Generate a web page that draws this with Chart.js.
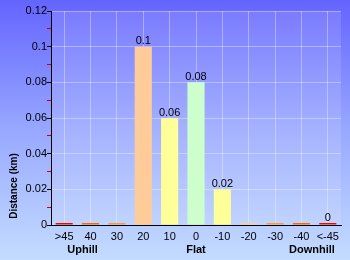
<!DOCTYPE html>
<html lang="en">
<head>
<meta charset="UTF-8">
<title>Distance by gradient</title>
<script src="https://cdn.jsdelivr.net/npm/chart.js"></script>
<style>
    html, body { margin: 0; padding: 0; background: #c4dcff; }
    #wrap { position: relative; width: 350px; height: 260px; }
</style>
</head>
<body>
<div id="wrap"><canvas id="chart" width="350" height="260"></canvas></div>
<script>
// Chart data
const categories = ['>45', '40', '30', '20', '10', '0', '-10', '-20', '-30', '-40', '<-45'];
const distances = [0, 0, 0, 0.1, 0.06, 0.08, 0.02, 0, 0, 0, 0];
const valueLabels = ['', '', '', '0.1', '0.06', '0.08', '0.02', '', '', '', '0'];
const barColors = ['#ff0000', '#ff6600', '#ff9933', '#ffcc99', '#ffff99', '#ccffcc',
                   '#ffff99', '#ffcc99', '#ff9933', '#ff6600', '#ff0000'];
const groupLabels = [
    { text: 'Uphill', index: 0.7 },
    { text: 'Flat', index: 5 },
    { text: 'Downhill', index: 9.4 }
];
const yMax = 0.12;
const yStep = 0.01;

const FONT = '"Liberation Sans", Arial, sans-serif';

// background gradient + lighter plot area
const backdrop = {
    id: 'backdrop',
    beforeDraw(chart) {
        const { ctx, width, height, chartArea: a } = chart;
        ctx.save();
        const g = ctx.createLinearGradient(0, 0, 0, height);
        g.addColorStop(0, '#6464ff');
        g.addColorStop(0.5, '#98a8ff');
        g.addColorStop(1, '#c4dcff');
        ctx.fillStyle = g;
        ctx.fillRect(0, 0, width, height);
        ctx.fillStyle = 'rgba(255,255,255,0.12)';
        ctx.fillRect(a.left, a.top, a.right - a.left, a.bottom - a.top);
        ctx.restore();
    }
};

// value labels, axis title and group captions
const annotations = {
    id: 'annotations',
    afterDatasetsDraw(chart) {
        const { ctx } = chart;
        const meta = chart.getDatasetMeta(0);
        ctx.save();
        ctx.fillStyle = '#000';
        ctx.font = '11px ' + FONT;
        ctx.textAlign = 'center';
        ctx.textBaseline = 'bottom';
        meta.data.forEach((bar, i) => {
            if (valueLabels[i]) ctx.fillText(valueLabels[i], bar.x, bar.y);
        });

        ctx.font = 'bold 11px ' + FONT;
        ctx.textBaseline = 'middle';
        const xs = chart.scales.x;
        groupLabels.forEach(g => {
            ctx.fillText(g.text, xs.getPixelForValue(g.index), 250);
        });

        ctx.translate(14, 186);
        ctx.rotate(-Math.PI / 2);
        ctx.font = 'bold 10px ' + FONT;
        ctx.fillText('Distance (km)', 0, 0);
        ctx.restore();
    }
};

const isMajor = v => Math.round(v / yStep) % 2 === 0;

new Chart(document.getElementById('chart'), {
    type: 'bar',
    data: {
        labels: categories,
        datasets: [{
            data: distances,
            backgroundColor: barColors,
            borderWidth: 0,
            minBarLength: 2,
            barPercentage: 0.65,
            categoryPercentage: 1
        }]
    },
    options: {
        responsive: false,
        animation: false,
        events: [],
        layout: { padding: { left: 0, right: 9, top: 11, bottom: 0 } },
        plugins: { legend: { display: false }, tooltip: { enabled: false } },
        scales: {
            x: {
                afterFit(s) { s.height = 35; },
                border: { color: '#000', width: 1 },
                grid: {
                    offset: false,
                    drawTicks: false,
                    color: 'rgba(255,255,255,0.35)',
                    borderDash: [4, 3]
                },
                ticks: {
                    color: '#000',
                    padding: 5,
                    maxRotation: 0,
                    minRotation: 0,
                    autoSkip: false,
                    font: { family: FONT, size: 11 }
                }
            },
            y: {
                min: 0,
                max: yMax,
                afterFit(s) { s.width = 51; },
                border: { color: '#000', width: 1 },
                grid: {
                    color: c => isMajor(c.tick.value) ? 'rgba(255,255,255,0.35)' : 'rgba(0,0,0,0)',
                    tickColor: c => isMajor(c.tick.value) ? '#000' : '#cc0000',
                    borderDash: [4, 3],
                    tickBorderDash: [],
                    tickLength: 4
                },
                ticks: {
                    stepSize: yStep,
                    color: '#000',
                    padding: 0,
                    font: { family: FONT, size: 11 },
                    callback: v => isMajor(v) ? String(+v.toFixed(2)) : ''
                }
            }
        }
    },
    plugins: [backdrop, annotations]
});
</script>
</body>
</html>
